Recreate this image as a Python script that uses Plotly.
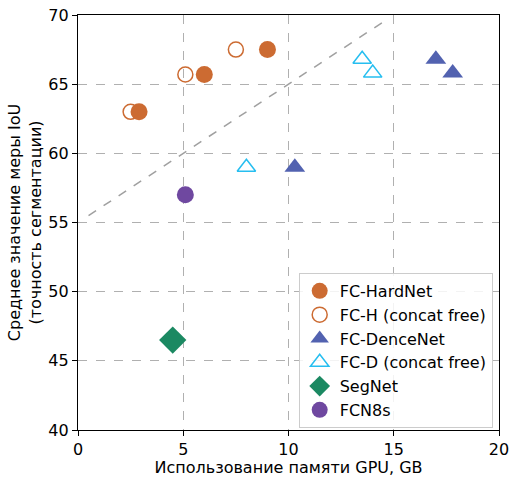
import plotly.graph_objects as go

# Data
hard_x = [2.9, 6.0, 9.0]
hard_y = [63.0, 65.7, 67.5]
hcf_x = [2.5, 5.1, 7.5]
hcf_y = [63.0, 65.7, 67.5]
dense_x = [17.0, 17.8, 10.3]
dense_y = [66.8, 65.8, 59.0]
dcf_x = [13.5, 14.0, 8.0]
dcf_y = [66.8, 65.8, 59.0]
seg_x = [4.5]
seg_y = [46.5]
fcn_x = [5.1]
fcn_y = [57.0]
line_x = [0.5, 14.5]
line_y = [55.5, 69.5]

ORANGE = "rgb(204,107,50)"
BLUE = "rgb(82,98,176)"
CYAN = "rgb(38,190,240)"
GREEN = "rgb(27,137,98)"
PURPLE = "rgb(111,72,160)"

FONT = "DejaVu Sans"

fig = go.Figure()
fig.add_trace(go.Scatter(x=line_x, y=line_y, mode="lines",
                         line=dict(color="rgb(160,160,160)", dash="dash", width=1.5),
                         showlegend=False, hoverinfo="skip"))
fig.add_trace(go.Scatter(x=hard_x, y=hard_y, mode="markers", name="FC-HardNet",
                         marker=dict(symbol="circle", size=17, color=ORANGE)))
fig.add_trace(go.Scatter(x=hcf_x, y=hcf_y, mode="markers", name="FC-H (concat free)",
                         marker=dict(symbol="circle-open", size=15, color=ORANGE, line=dict(width=1.5))))
fig.add_trace(go.Scatter(x=dense_x, y=dense_y, mode="markers", name="FC-DenceNet",
                         marker=dict(symbol="triangle-up", size=18, color=BLUE)))
fig.add_trace(go.Scatter(x=dcf_x, y=dcf_y, mode="markers", name="FC-D (concat free)",
                         marker=dict(symbol="triangle-up-open", size=16, color=CYAN, line=dict(width=1.5))))
fig.add_trace(go.Scatter(x=seg_x, y=seg_y, mode="markers", name="SegNet",
                         marker=dict(symbol="diamond", size=21, color=GREEN)))
fig.add_trace(go.Scatter(x=fcn_x, y=fcn_y, mode="markers", name="FCN8s",
                         marker=dict(symbol="circle", size=17, color=PURPLE)))

axis_common = dict(
    showline=True, linecolor="black", linewidth=1.2, mirror=True,
    ticks="outside", ticklen=5, tickcolor="black", tickwidth=1.2,
    showgrid=True, gridcolor="rgb(176,176,176)", griddash="dash", gridwidth=1,
    zeroline=False, tickfont=dict(family=FONT, size=16, color="black"),
    automargin=False,
)

fig.update_layout(
    width=510, height=477,
    margin=dict(l=78, r=11, t=15, b=47),
    paper_bgcolor="white", plot_bgcolor="white",
    font=dict(family=FONT, size=16, color="black"),
    xaxis=dict(range=[0, 20], tickvals=[0, 5, 10, 15, 20], **axis_common,
               title=dict(text="Использование памяти GPU, GB", font=dict(family=FONT, size=16), standoff=6)),
    yaxis=dict(range=[40, 70], tickvals=[40, 45, 50, 55, 60, 65, 70], **axis_common,
               title=dict(text="Среднее значение меры IoU<br>(точность сегментации)",
                          font=dict(family=FONT, size=16), standoff=2)),
    legend=dict(x=0.985, y=0.005, xanchor="right", yanchor="bottom",
                bgcolor="rgba(255,255,255,0.85)", bordercolor="rgb(204,204,204)", borderwidth=1,
                font=dict(family=FONT, size=16), tracegroupgap=0, itemwidth=30),
)

fig.write_html("out.html")
